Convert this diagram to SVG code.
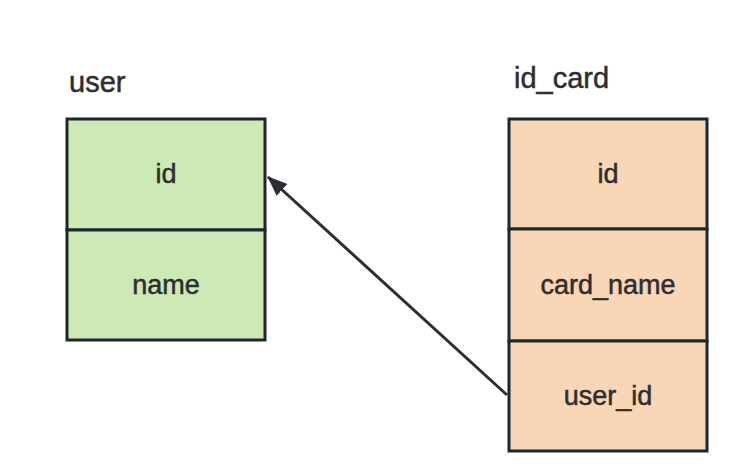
<svg xmlns="http://www.w3.org/2000/svg" width="751" height="473" viewBox="0 0 751 473">
<style>
.title{font-family:"Liberation Sans",Arial,sans-serif;font-size:29px;fill:#2e2e2e;stroke:#2e2e2e;stroke-width:0.5}
.field{font-family:"Liberation Sans",Arial,sans-serif;font-size:27px;fill:#2e2e2e;stroke:#2e2e2e;stroke-width:0.5;text-anchor:middle}
.cell{stroke:#1f2630;stroke-width:3}
.green{fill:#cdeab6}
.orange{fill:#f8d6b6}
.conn{stroke:#2b2e33;stroke-width:3;fill:none}
</style>
<defs>
<marker id="arrow" viewBox="0 0 20 20" markerWidth="20" markerHeight="20" refX="19" refY="10" orient="auto" markerUnits="userSpaceOnUse">
<path d="M0,2 L20,10 L0,18 z" fill="#2b2e33"/>
</marker>
</defs>
<rect width="751" height="473" fill="#ffffff"/>
<g id="user">
<text class="title" x="69" y="92">user</text>
<rect class="cell green" x="67" y="119" width="198" height="111"/>
<rect class="cell green" x="67" y="230" width="198" height="110"/>
<text class="field" x="166" y="183">id</text>
<text class="field" x="166" y="294">name</text>
</g>
<g id="id_card">
<text class="title" x="514" y="88">id_card</text>
<rect class="cell orange" x="509" y="119" width="198" height="110"/>
<rect class="cell orange" x="509" y="229" width="198" height="112"/>
<rect class="cell orange" x="509" y="341" width="198" height="110"/>
<text class="field" x="608" y="183">id</text>
<text class="field" x="608" y="294">card_name</text>
<text class="field" x="608" y="405">user_id</text>
</g>
<g id="connectors">
<line class="conn" x1="507" y1="395" x2="268" y2="177" marker-end="url(#arrow)"/>
</g>
</svg>
